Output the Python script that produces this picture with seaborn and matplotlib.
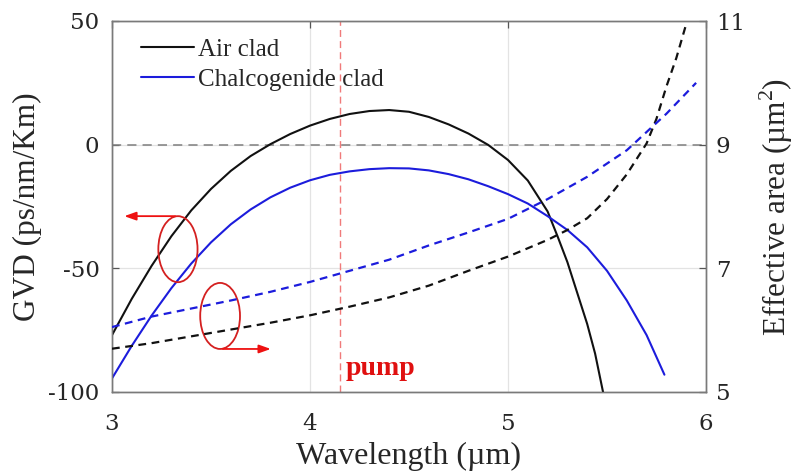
import numpy as np
import pandas as pd
import matplotlib
matplotlib.use("Agg")
import matplotlib.pyplot as plt
from matplotlib.patches import Ellipse
import seaborn as sns

# ---------------- data ----------------
wl_air_gvd = [3.0, 3.1, 3.2, 3.3, 3.4, 3.5, 3.6, 3.7, 3.8, 3.9, 4.0, 4.1, 4.2, 4.3,
              4.4, 4.5, 4.6, 4.7, 4.8, 4.9, 5.0, 5.1, 5.2, 5.25, 5.3, 5.35, 5.4,
              5.44, 5.48]
gvd_air = [-77, -62.3, -49, -37, -26.6, -17.9, -10.6, -4.6, 0.2, 4.3, 7.7, 10.4, 12.4,
           13.6, 14.0, 13.3, 11.2, 8.2, 4.5, -0.1, -6.2, -14.5, -27, -37, -47.5, -60,
           -72.5, -84.5, -100]

wl_chal_gvd = [3.0, 3.1, 3.2, 3.3, 3.4, 3.5, 3.6, 3.7, 3.8, 3.9, 4.0, 4.1, 4.2, 4.3, 4.4,
               4.5, 4.6, 4.7, 4.8, 4.9, 5.0, 5.1, 5.2, 5.3, 5.4, 5.5, 5.6, 5.7, 5.79]
gvd_chal = [-94.5, -81.3, -69.1, -58, -48.1, -39.5, -32.2, -26.2, -21.3, -17.4, -14.4,
            -12.2, -10.8, -9.9, -9.5, -9.6, -10.4, -11.9, -14.0, -16.8, -20.0, -23.8,
            -28.9, -34.5, -41.5, -51, -63, -77, -93]

wl_air_aeff = [3.0, 3.2, 3.4, 3.6, 3.8, 4.0, 4.2, 4.4, 4.6, 4.8, 5.0, 5.2, 5.3, 5.4,
               5.5, 5.6, 5.7, 5.75, 5.8, 5.85, 5.9]
aeff_air = [5.70, 5.79, 5.90, 6.01, 6.12, 6.24, 6.38, 6.53, 6.72, 6.96, 7.19, 7.46, 7.62,
            7.81, 8.12, 8.52, 9.02, 9.42, 9.94, 10.4, 10.95]

wl_chal_aeff = [3.0, 3.2, 3.4, 3.6, 3.8, 4.0, 4.2, 4.4, 4.6, 4.8, 5.0, 5.2, 5.4, 5.6,
                5.8, 5.95]
aeff_chal = [6.05, 6.22, 6.35, 6.48, 6.62, 6.78, 6.96, 7.14, 7.37, 7.58, 7.80, 8.12,
             8.48, 8.91, 9.5, 10.0]

pump_wl = 4.15
legend_labels = ["Air clad", "Chalcogenide clad"]
x_ticks = [3, 4, 5, 6]
gvd_ticks = [-100, -50, 0, 50]
aeff_ticks = [5, 7, 9, 11]

# ---------------- style ----------------
sns.set_style("white")
plt.rcParams['font.family'] = ['Liberation Serif', 'DejaVu Serif']
plt.rcParams['mathtext.fontset'] = 'custom'
plt.rcParams['mathtext.rm'] = 'Liberation Serif'

BLACK = "#111111"
BLUE = "#1c1cdc"
GRID = "#e3e3e3"
SPINE = "#7a7a7a"
TXT = "#262626"

fig = plt.figure(figsize=(7.97, 4.75), dpi=100)
ax = fig.add_axes([112/797, 1-392/475, (706-112)/797, (392-21)/475])
ax2 = ax.twinx()

# grid
for xv in x_ticks:
    ax.axvline(xv, color=GRID, lw=0.9, zorder=0)
for yv in gvd_ticks:
    ax.axhline(yv, color=GRID, lw=0.9, zorder=0)
ax.axhline(0, color="#7f7f7f", lw=1.1, ls=(0, (6, 4)), zorder=1)
ax.axvline(pump_wl, color="#f07a7a", lw=1.0, ls=(0, (5, 3)), zorder=1)

df_air = pd.DataFrame({"wl": wl_air_gvd, "gvd": gvd_air})
df_chal = pd.DataFrame({"wl": wl_chal_gvd, "gvd": gvd_chal})
sns.lineplot(data=df_air, x="wl", y="gvd", ax=ax, color=BLACK, lw=1.5,
             label=legend_labels[0], zorder=3)
sns.lineplot(data=df_chal, x="wl", y="gvd", ax=ax, color=BLUE, lw=1.5,
             label=legend_labels[1], zorder=3)

df_air_a = pd.DataFrame({"wl": wl_air_aeff, "a": aeff_air})
df_chal_a = pd.DataFrame({"wl": wl_chal_aeff, "a": aeff_chal})
sns.lineplot(data=df_air_a, x="wl", y="a", ax=ax2, color=BLACK, lw=1.6,
             ls=(0, (3.5, 2.5)), legend=False, zorder=3)
sns.lineplot(data=df_chal_a, x="wl", y="a", ax=ax2, color=BLUE, lw=1.6,
             ls=(0, (3.5, 2.5)), legend=False, zorder=3)

ax.set_xlim(3, 6)
ax.set_ylim(-100, 50)
ax2.set_ylim(5, 11)
ax.set_xticks(x_ticks)
ax.set_xticklabels([str(t) for t in x_ticks])
ax.set_yticks(gvd_ticks)
ax.set_yticklabels([str(t) for t in gvd_ticks])
ax2.set_yticks(aeff_ticks)
ax2.set_yticklabels([str(t) for t in aeff_ticks])

for a in (ax, ax2):
    for s in a.spines.values():
        s.set_color(SPINE)
        s.set_linewidth(1.0)
    a.tick_params(direction="in", length=5, width=0.9, color="#555555",
                  labelcolor=TXT, pad=7)
    for lab in a.get_xticklabels() + a.get_yticklabels():
        lab.set_family(['DejaVu Serif'])
        lab.set_fontsize(16.5)
ax.tick_params(axis="x", top=True, pad=15)
ax.tick_params(axis="y", pad=9)
ax.set_xlabel("Wavelength (µm)", fontsize=23, color=TXT)
ax.set_ylabel("GVD (ps/nm/Km)", fontsize=22.5, color=TXT)
ax2.set_ylabel("Effective area (µm$^2$)", fontsize=22.5, color=TXT)
ax.xaxis.set_label_coords(0.5, -0.135)
ax.yaxis.set_label_coords(-0.118, 0.5)
ax2.yaxis.set_label_coords(1.087, 0.5)

leg = ax.legend(loc="upper left", frameon=False, fontsize=18, handlelength=2.1,
                handletextpad=0.15, borderaxespad=0.3, labelspacing=0.3,
                bbox_to_anchor=(0.02, 1.0))
for t in leg.get_texts():
    t.set_color(TXT)

ax.text(4.18, -93, "pump", color="#e01010", fontsize=20, fontweight="bold",
        ha="left", va="baseline", zorder=4)

# annotation ellipses and arrows (axes-fraction positions)
ax.add_patch(Ellipse((0.111, 0.385), 0.066, 0.178, transform=ax.transAxes,
                     fill=False, ec="#d42020", lw=1.3, zorder=5))
ax.add_patch(Ellipse((0.182, 0.205), 0.067, 0.178, transform=ax.transAxes,
                     fill=False, ec="#d42020", lw=1.3, zorder=5))
ax.annotate("", xy=(0.016, 0.474), xytext=(0.111, 0.474), xycoords=ax.transAxes,
            arrowprops=dict(arrowstyle="-|>,head_length=0.7,head_width=0.25",
                            color="#ee1111", lw=1.3), zorder=5)
ax.annotate("", xy=(0.272, 0.116), xytext=(0.182, 0.116), xycoords=ax.transAxes,
            arrowprops=dict(arrowstyle="-|>,head_length=0.7,head_width=0.25",
                            color="#ee1111", lw=1.3), zorder=5)

fig.savefig("out.png", dpi=100)
